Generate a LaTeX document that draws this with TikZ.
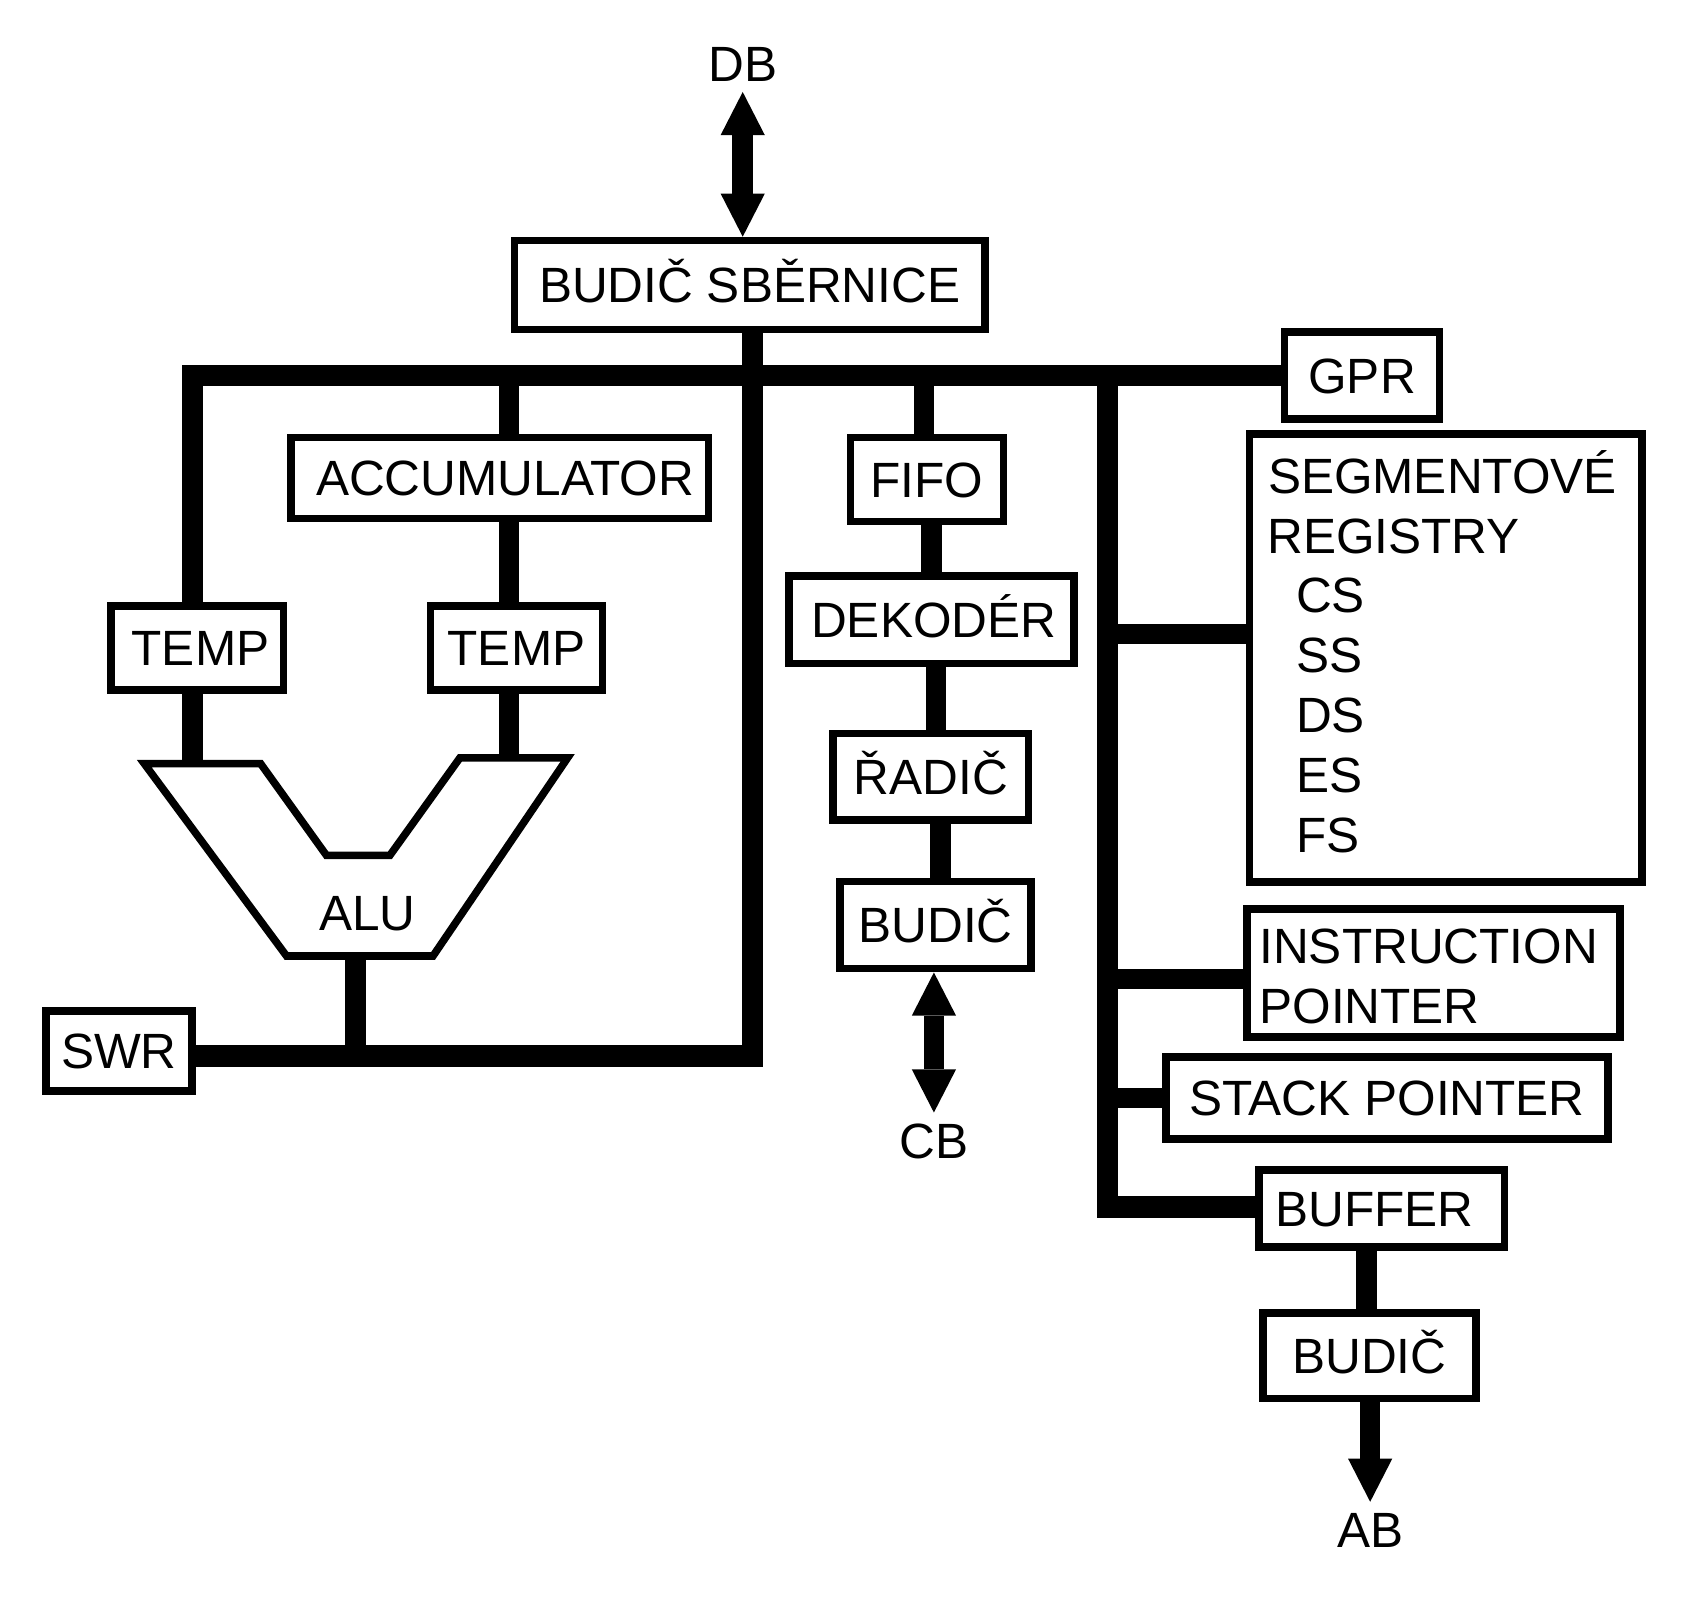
\documentclass[tikz,border=0pt]{standalone}
\usepackage{fontspec}
\setmainfont{Liberation Sans}
\usetikzlibrary{arrows.meta}
\newcommand\dfont{\fontsize{46}{55.5}\selectfont}
\begin{document}
\begin{tikzpicture}[x=1pt,y=-1pt,
  box/.style={draw, line width=7pt, inner sep=0pt, text height=33pt, text depth=0pt, font=\dfont},
  lbl/.style={inner sep=0pt, font=\dfont, text height=33pt, text depth=0pt},
  endlbl/.style={lbl, inner ysep=9.5pt},
  bus/.style={line width=20pt, line join=miter},
  conn/.style={line width=19pt},
  arr/.style={-{Triangle[length=40pt,width=41pt,line width=0pt]}},
  darr/.style={{Triangle[length=40pt,width=41pt,line width=0pt]}-{Triangle[length=40pt,width=41pt,line width=0pt]}},
  alu/.style={line width=7pt, line join=miter}]
\fill[white] (0,0) rectangle (1568,1483.5);
\useasboundingbox (0,0) rectangle (1568,1483.5);

% boxes
\node[box, minimum width=437pt, minimum height=82.5pt] (BS) at (696,264.5) {BUDIČ SBĚRNICE};
\node[box, minimum width=387.5pt, minimum height=75.4pt] (ACC) at (464,443.8) {\hspace*{10pt}ACCUMULATOR};
\node[box, minimum width=160pt, minimum height=78.3pt] (TEMPL) at (183.15,601.55) {\hspace*{6pt}TEMP};
\node[box, minimum width=160pt, minimum height=78.3pt] (TEMPR) at (479.5,601.55) {TEMP};
\node[box, minimum width=135.7pt, minimum height=74.5pt] (SWR) at (110.35,975.75) {SWR};
\node[box, minimum width=142.4pt, minimum height=78.2pt] (FIFO) at (860.6,445.2) {FIFO};
\node[box, minimum width=264.6pt, minimum height=81.5pt] (DEK) at (864.8,575.25) {\hspace*{4pt}DEKODÉR};
\node[box, minimum width=181.5pt, minimum height=80.2pt] (RAD) at (864.25,720.9) {ŘADIČ};
\node[box, minimum width=177.2pt, minimum height=81.1pt] (BUD1) at (868.5,858.75) {BUDIČ};
\node[box, minimum width=144pt, minimum height=80.7pt] (GPR) at (1264.5,348.5) {GPR};
\node[box, minimum width=364.6pt, minimum height=415.9pt] (SEG) at (1342.2,610.75) {};
\node[box, minimum width=346.1pt, minimum height=119pt] (IP) at (1330.85,903.2) {};
\node[box, minimum width=410.5pt, minimum height=75.7pt] (SP) at (1287.55,1019.35) {STACK POINTER};
\node[box, minimum width=227.9pt, minimum height=71.2pt] (BUF) at (1282.95,1121.9) {\hspace*{-14pt}BUFFER};
\node[box, minimum width=198pt, minimum height=79.5pt] (BUD2) at (1271.3,1258.75) {BUDIČ};

% texts inside multi-line boxes
\node[lbl, anchor=base west] (seg1) at (1177,458) {SEGMENTOVÉ};
\node[lbl, anchor=base west] (seg2) at (1176.5,513.5) {REGISTRY};
\node[lbl, anchor=base west] (seg3) at (1203,569) {CS};
\node[lbl, anchor=base west] (seg4) at (1203,624.5) {SS};
\node[lbl, anchor=base west] (seg5) at (1203,680) {DS};
\node[lbl, anchor=base west] (seg6) at (1203,735.5) {ES};
\node[lbl, anchor=base west] (seg7) at (1203,791) {FS};
\node[lbl, anchor=base west] (ip1) at (1169,894.2) {INSTRUCTION};
\node[lbl, anchor=base west] (ip2) at (1169,950) {POINTER};

% end labels
\node[endlbl] (DB) at (689.5,59.2) {DB};
\node[endlbl] (CB) at (867,1059) {CB};
\node[endlbl] (AB) at (1272,1420.4) {AB};

% ALU
\draw[alu] (134,709) -- (242,709) -- (303,794) -- (362,794) -- (427,703.5) -- (527,703.5) -- (402,887.5) -- (266,887.5) -- cycle;
\node[lbl] (ALU) at (341,847) {ALU};
\coordinate (aluL) at (178.5,709);
\coordinate (aluR) at (472.5,703.5);
\coordinate (aluB) at (330,887.5);

% junctions
\coordinate (jL) at (178.5,348.5);
\coordinate (jA) at (472.5,348.5);
\coordinate (jC) at (698.5,348.5);
\coordinate (jCB) at (698.5,980.5);
\coordinate (jF) at (857.6,348.5);
\coordinate (jR) at (1028,348.5);
\coordinate (jRB) at (1028,1120.5);

% buses
\draw[bus] (TEMPL.north -| jL) -- (jL) -- (GPR.west);
\draw[bus] (BS.south -| jC) -- (jCB) -- (jCB -| SWR.east);
\draw[bus] (jR) -- (jRB) -- (jRB -| BUF.west);

% connectors
\draw[conn] (jA) -- (jA |- ACC.north);
\draw[conn] (ACC.south -| jA) -- (TEMPR.north -| jA);
\draw[conn] (TEMPL.south -| jL) -- (aluL);
\draw[conn] (TEMPR.south -| jA) -- (aluR);
\draw[conn] (aluB) -- (aluB |- jCB);
\draw[conn] (jF) -- (jF |- FIFO.north);
\draw[conn] (FIFO.south -| DEK.north) -- (DEK.north);
\draw[conn] ([xshift=4pt]DEK.south) -- ([xshift=4pt]DEK.south |- RAD.north);
\draw[conn] ([xshift=4.5pt]BUD1.north |- RAD.south) -- ([xshift=4.5pt]BUD1.north);
\draw[conn] ([yshift=22.25pt]SEG.west -| jR) -- ([yshift=22.25pt]SEG.west);
\draw[conn] ([yshift=-5.8pt]IP.west -| jR) -- ([yshift=-5.8pt]IP.west);
\draw[conn] (SP.west -| jR) -- (SP.west);
\draw[conn] ([xshift=-2.6pt]BUD2.north |- BUF.south) -- ([xshift=-2.6pt]BUD2.north);

% arrows
\draw[conn, darr] (DB.south) -- (DB.south |- BS.north);
\draw[conn, darr] (CB.north |- BUD1.south) -- (CB.north);
\draw[conn, arr] (AB.north |- BUD2.south) -- (AB.north);
\end{tikzpicture}
\end{document}
